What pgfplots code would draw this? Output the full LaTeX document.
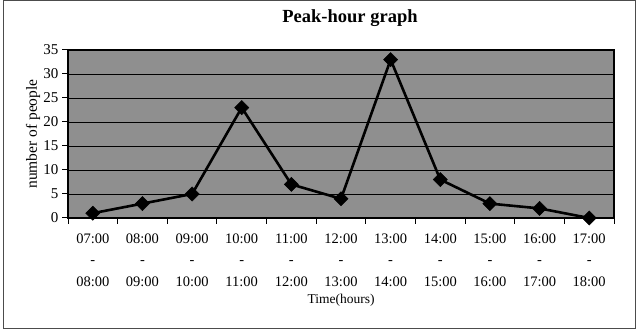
\documentclass[border=0pt]{standalone}
\usepackage{fontspec}
\setmainfont{Liberation Serif}
\usepackage{pgfplots}
\pgfplotsset{compat=1.18}
\definecolor{plotbg}{rgb}{0.56,0.56,0.56}
\begin{document}
\begin{tikzpicture}[x=1pt,y=1pt]
\useasboundingbox (0,0) rectangle (639,329);
\draw[gray!60!black, line width=0.8pt] (3,0.5) rectangle (635,328.5);
\node[font=\fontsize{18.5}{20}\selectfont\bfseries] at (350,311) {Peak-hour graph};
\begin{axis}[
  at={(68pt,111pt)}, anchor=south west,
  scale only axis, width=546pt, height=168pt,
  xmin=-0.5, xmax=10.5, ymin=0, ymax=35,
  ytick={0,5,...,35},
  xtick={0,...,10},
  xticklabels={{07:00\\-\\08:00},{08:00\\-\\09:00},{09:00\\-\\10:00},{10:00\\-\\11:00},{11:00\\-\\12:00},{12:00\\-\\13:00},{13:00\\-\\14:00},{14:00\\-\\15:00},{15:00\\-\\16:00},{16:00\\-\\17:00},{17:00\\-\\18:00}},
  minor xtick={-0.5,0.5,...,10.5},
  major x tick style={draw=none},
  tick align=outside,
  major tick length=6pt, minor tick length=6pt,
  tick style={black, line width=1pt},
  xtick pos=bottom, ytick pos=left,
  axis background/.style={fill=plotbg},
  ymajorgrids,
  grid style={black, line width=0.9pt},
  axis line style={black, line width=1.3pt},
  xticklabel style={align=center, font=\fontsize{14.5}{21.5}\selectfont, yshift=-6pt},
  yticklabel style={font=\fontsize{15}{16}\selectfont},
  ylabel={number of people},
  ylabel style={font=\fontsize{15.5}{17}\selectfont, at={(axis description cs:0,0.5)}, anchor=center, yshift=35pt},
  xlabel={Time(hours)},
  xlabel style={font=\fontsize{13.5}{15}\selectfont, at={(axis description cs:0.5,0)}, anchor=center, yshift=-82pt},
  /pgf/number format/assume math mode=true,
  clip=false,
]
\addplot[black, line width=2.6pt, mark=square*, mark size=5pt, mark options={rotate=45, fill=black, line width=0.5pt}]
  coordinates {(0,1) (1,3) (2,5) (3,23) (4,7) (5,4) (6,33) (7,8) (8,3) (9,2) (10,0)};
\end{axis}
\end{tikzpicture}
\end{document}
